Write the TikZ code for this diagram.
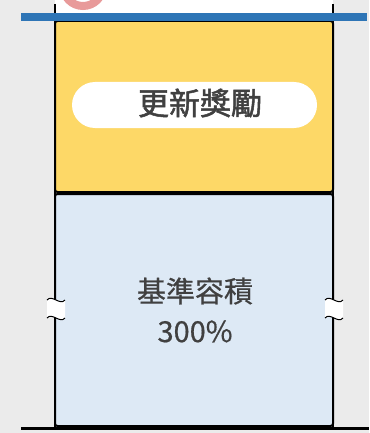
\documentclass[tikz,border=0pt]{standalone}
\usepackage{fontspec}
\newfontfamily\cjk[FakeBold=0.6]{Noto Sans CJK TC}
\newfontfamily\cjkheavy[FakeBold=1.6]{Noto Sans CJK TC}
\definecolor{bggray}{HTML}{EBEBEB}
\definecolor{bonusyellow}{HTML}{FDD867}
\definecolor{baseblue}{HTML}{DDE9F5}
\definecolor{roadblue}{HTML}{2E75B6}
\definecolor{ringpink}{HTML}{E89A9A}
\definecolor{inkgray}{HTML}{404040}

\tikzset{
  floor/.style={draw=black, line width=2pt, rounded corners=2.5pt, minimum width=278pt, inner sep=0pt},
  pill/.style={fill=white, rounded corners=23pt, minimum width=245pt, minimum height=46pt, inner sep=0pt},
  wavebreak/.pic={
    \fill[white] (-9,-9) .. controls (-4,-15) and (4,-3) .. (9,-9) -- (9,9) .. controls (4,15) and (-4,3) .. (-9,9) -- cycle;
    \draw[line width=1pt] (-9,-9) .. controls (-4,-15) and (4,-3) .. (9,-9);
    \draw[line width=1pt] (-9,9) .. controls (-4,3) and (4,15) .. (9,9);
  }
}

\begin{document}
\begin{tikzpicture}[x=1pt,y=-1pt]
  \fill[bggray] (0,0) rectangle (369,433);
  \useasboundingbox (0,0) rectangle (369,433);
  \fill[white] (55,0) rectangle (333,14);
  \draw[ringpink, line width=8pt] (83,-14) circle[radius=20];

  \node[floor, fill=bonusyellow, minimum height=171pt] (bonusfloor) at (194,106.5) {};
  \node[floor, fill=baseblue, minimum height=232pt] (basefloor) at (194,310) {};

  \coordinate (lefttop) at (55,4);
  \coordinate (leftbot) at (55,427);
  \coordinate (righttop) at (333,4);
  \coordinate (rightbot) at (333,427);
  \draw[line width=2.5pt] (lefttop) -- (leftbot);
  \draw[line width=2.5pt] (righttop) -- (rightbot);

  \coordinate (roadwest) at (21,17);
  \coordinate (roadeast) at (367,17);
  \draw[roadblue, line width=8pt] (roadwest) -- (roadeast);

  \coordinate (groundwest) at (21,428);
  \coordinate (groundeast) at (369,428);
  \draw[line width=3pt] (groundwest) -- (groundeast);

  \pic at (56,309) {wavebreak};
  \pic at (334,309) {wavebreak};

  \node[pill] (bonus) at (194.5,105) {};
  \node[text=inkgray, font=\cjkheavy\fontsize{31}{31}\selectfont] (bonustext) at (200,103) {更新獎勵};
  \node[text=inkgray, align=center, font=\cjk\fontsize{29}{40}\selectfont] (basetext) at (195,310) {基準容積\\300\%};
\end{tikzpicture}
\end{document}
